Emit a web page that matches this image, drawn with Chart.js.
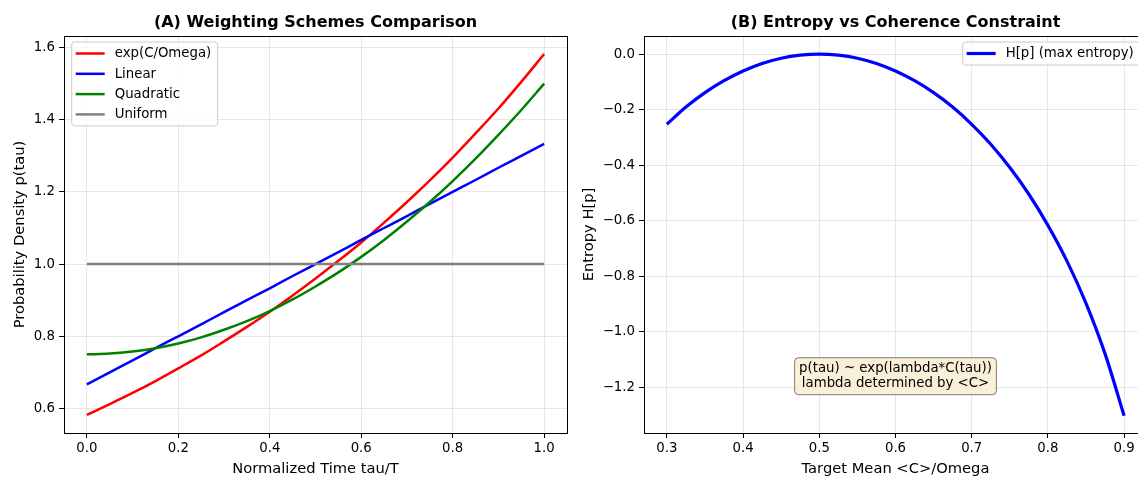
<!DOCTYPE html>
<html lang="en">
<head>
<meta charset="UTF-8">
<title>Weighting Schemes / Entropy</title>
<script src="https://cdn.jsdelivr.net/npm/chart.js@4.4.0/dist/chart.umd.min.js"></script>
<style>
  html, body { margin: 0; padding: 0; background: #fff; overflow: hidden; }
  body { width: 1138px; height: 478px; position: relative; }
  #left { position: absolute; left: 0; top: 0; }
  #right { position: absolute; left: 580px; top: 0; }
</style>
</head>
<body>
<canvas id="left" width="580" height="478"></canvas>
<canvas id="right" width="580" height="478"></canvas>

<script>
var tau = [0, 0.05, 0.1, 0.15, 0.2, 0.25, 0.3, 0.35, 0.4, 0.45, 0.5,
           0.55, 0.6, 0.65, 0.7, 0.75, 0.8, 0.85, 0.9, 0.95, 1.0];
var expWeight = [0.582, 0.612, 0.643, 0.676, 0.711, 0.747, 0.786, 0.826, 0.868, 0.913, 0.960,
                 1.009, 1.060, 1.115, 1.172, 1.232, 1.295, 1.362, 1.431, 1.505, 1.582];
var linWeight = [0.667, 0.700, 0.733, 0.767, 0.800, 0.833, 0.867, 0.900, 0.933, 0.967, 1.000,
                 1.033, 1.067, 1.100, 1.133, 1.167, 1.200, 1.233, 1.267, 1.300, 1.333];
var quadWeight = [0.750, 0.752, 0.758, 0.767, 0.780, 0.797, 0.818, 0.842, 0.870, 0.902, 0.938,
                  0.977, 1.020, 1.067, 1.118, 1.172, 1.230, 1.292, 1.358, 1.427, 1.500];
var uniWeight = [1, 1, 1, 1, 1, 1, 1, 1, 1, 1, 1, 1, 1, 1, 1, 1, 1, 1, 1, 1, 1];
var ticksAx = [0, 0.2, 0.4, 0.6, 0.8, 1.0];
var ticksAy = [0.6, 0.8, 1.0, 1.2, 1.4, 1.6];

// (B) entropy vs target mean
var targetMean = [0.3, 0.325, 0.35, 0.375, 0.4, 0.425, 0.45, 0.475, 0.5,
                  0.525, 0.55, 0.575, 0.6, 0.625, 0.65, 0.675, 0.7,
                  0.725, 0.75, 0.775, 0.8, 0.825, 0.85, 0.875, 0.9];
var entropy = [-0.253, -0.191, -0.139, -0.096, -0.061, -0.034, -0.015, -0.004, 0,
               -0.004, -0.015, -0.034, -0.061, -0.096, -0.139, -0.191, -0.253,
               -0.325, -0.409, -0.505, -0.617, -0.746, -0.898, -1.080, -1.303];
var ticksBx = [0.3, 0.4, 0.5, 0.6, 0.7, 0.8, 0.9];
var ticksBy = [-1.2, -1.0, -0.8, -0.6, -0.4, -0.2, 0.0];
var noteLines = ['p(tau) ~ exp(lambda*C(tau))', 'lambda determined by <C>'];

Chart.defaults.font.family = '"DejaVu Sans", sans-serif';
Chart.defaults.color = '#000';

function pts(xs, ys) {
  return xs.map(function (x, i) { return { x: x, y: ys[i] }; });
}
function fmt(v) {
  return v.toFixed(1).replace('-', '\u2212');
}
function roundRect(ctx, x, y, w, h, r) {
  ctx.beginPath();
  ctx.moveTo(x + r, y);
  ctx.lineTo(x + w - r, y);
  ctx.quadraticCurveTo(x + w, y, x + w, y + r);
  ctx.lineTo(x + w, y + h - r);
  ctx.quadraticCurveTo(x + w, y + h, x + w - r, y + h);
  ctx.lineTo(x + r, y + h);
  ctx.quadraticCurveTo(x, y + h, x, y + h - r);
  ctx.lineTo(x, y + r);
  ctx.quadraticCurveTo(x, y, x + r, y);
  ctx.closePath();
}

function axis(min, max, ticks, title, isY, titlePad) {
  return {
    type: 'linear',
    min: min,
    max: max,
    afterBuildTicks: function (s) {
      s.ticks = ticks.map(function (v) { return { value: v }; });
    },
    afterFit: function (s) {
      if (isY) s.width = 64; else s.height = 45;
    },
    grid: { color: 'rgba(176,176,176,0.3)', lineWidth: 1, tickColor: '#000', tickLength: 5 },
    border: { display: false },
    ticks: { font: { size: 13.3 }, color: '#000', padding: isY ? 4 : 3, autoSkip: false, maxRotation: 0, callback: fmt },
    title: { display: true, text: title, font: { size: 14.7 }, color: '#000', padding: titlePad }
  };
}

// spines on all four sides
var frameBox = {
  id: 'frameBox',
  afterDatasetsDraw: function (chart) {
    var a = chart.chartArea, ctx = chart.ctx;
    ctx.save();
    ctx.strokeStyle = '#000';
    ctx.lineWidth = 1;
    ctx.strokeRect(Math.round(a.left) + 0.5, Math.round(a.top) + 0.5,
                   Math.round(a.right - a.left), Math.round(a.bottom - a.top));
    ctx.restore();
  }
};

// legend drawn inside the axes, like matplotlib
var insideLegend = {
  id: 'insideLegend',
  afterDraw: function (chart, args, opts) {
    var ctx = chart.ctx, a = chart.chartArea, sets = chart.data.datasets;
    ctx.save();
    ctx.font = '13.3px "DejaVu Sans"';
    var tw = 0;
    sets.forEach(function (d) { tw = Math.max(tw, ctx.measureText(d.label).width); });
    var w = 4 + 29 + 10 + tw + 6.3;
    var h = 23 + (sets.length - 1) * 20.3;
    var x0 = opts.side === 'right' ? a.right - 7 - w : a.left + 7.7;
    var y0 = a.top + 6;
    roundRect(ctx, x0, y0, w, h, 3);
    ctx.fillStyle = 'rgba(255,255,255,0.8)';
    ctx.fill();
    ctx.strokeStyle = '#cccccc';
    ctx.lineWidth = 1;
    ctx.stroke();
    ctx.textBaseline = 'middle';
    ctx.textAlign = 'left';
    sets.forEach(function (d, i) {
      var y = y0 + 11.5 + i * 20.3;
      ctx.beginPath();
      ctx.moveTo(x0 + 4, y);
      ctx.lineTo(x0 + 33, y);
      ctx.strokeStyle = d.borderColor;
      ctx.lineWidth = d.borderWidth;
      ctx.stroke();
      ctx.fillStyle = '#000';
      ctx.fillText(d.label, x0 + 43, y + 0.5);
    });
    ctx.restore();
  }
};

// text box in panel B
var noteBox = {
  id: 'noteBox',
  afterDraw: function (chart, args, opts) {
    var ctx = chart.ctx, a = chart.chartArea;
    var cx = (a.left + a.right) / 2;
    var cy = a.bottom - opts.yFrac * (a.bottom - a.top);
    ctx.save();
    ctx.font = '13.3px "DejaVu Sans"';
    var tw = 0;
    opts.lines.forEach(function (t) { tw = Math.max(tw, ctx.measureText(t).width); });
    roundRect(ctx, cx - tw / 2 - 4.5, cy - 18.5, tw + 9, 37, 4);
    ctx.fillStyle = 'rgb(250,239,217)';
    ctx.fill();
    ctx.strokeStyle = 'rgba(0,0,0,0.5)';
    ctx.lineWidth = 1;
    ctx.stroke();
    ctx.fillStyle = '#000';
    ctx.textAlign = 'center';
    ctx.textBaseline = 'middle';
    var pitch = 15.4;
    opts.lines.forEach(function (t, i) {
      ctx.fillText(t, cx, cy + (i - (opts.lines.length - 1) / 2) * pitch);
    });
    ctx.restore();
  }
};

function line(label, xs, ys, color, width, order) {
  return {
    label: label,
    data: pts(xs, ys),
    borderColor: color,
    backgroundColor: color,
    borderWidth: width,
    pointRadius: 0,
    fill: false,
    cubicInterpolationMode: 'monotone',
    order: order
  };
}

function titleOpts(text) {
  return {
    display: true,
    text: text,
    fullSize: false,
    color: '#000',
    font: { size: 16, weight: 'bold' },
    padding: { top: 13, bottom: 3.8 }
  };
}

new Chart(document.getElementById('left'), {
  type: 'line',
  data: {
    datasets: [
      line('exp(C/Omega)', tau, expWeight, '#ff0000', 2.5, 3),
      line('Linear', tau, linWeight, '#0000ff', 2.5, 2),
      line('Quadratic', tau, quadWeight, '#008000', 2.5, 1),
      line('Uniform', tau, uniWeight, '#808080', 2.5, 0)
    ]
  },
  options: {
    responsive: false,
    animation: false,
    devicePixelRatio: 1,
    layout: { padding: { left: 0, right: 13, top: 0, bottom: 0 } },
    scales: {
      x: axis(-0.05, 1.05, ticksAx, 'Normalized Time tau/T', false, { top: 0, bottom: 0 }),
      y: axis(0.532, 1.632, ticksAy, 'Probability Density p(tau)', true, { top: 11, bottom: 0 })
    },
    plugins: {
      legend: { display: false },
      tooltip: { enabled: false },
      title: titleOpts('(A) Weighting Schemes Comparison'),
      insideLegend: { side: 'left' }
    }
  },
  plugins: [frameBox, insideLegend]
});

new Chart(document.getElementById('right'), {
  type: 'line',
  data: {
    datasets: [
      line('H[p] (max entropy)', targetMean, entropy, '#0000ff', 3.2, 0)
    ]
  },
  options: {
    responsive: false,
    animation: false,
    devicePixelRatio: 1,
    layout: { padding: { left: 0, right: 13, top: 0, bottom: 0 } },
    scales: {
      x: axis(0.27, 0.93, ticksBx, 'Target Mean <C>/Omega', false, { top: 0, bottom: 0 }),
      y: axis(-1.365, 0.065, ticksBy, 'Entropy H[p]', true, { top: 0, bottom: 0 })
    },
    plugins: {
      legend: { display: false },
      tooltip: { enabled: false },
      title: titleOpts('(B) Entropy vs Coherence Constraint'),
      insideLegend: { side: 'right' },
      noteBox: { lines: noteLines, yFrac: 0.143 }
    }
  },
  plugins: [frameBox, insideLegend, noteBox]
});
</script>
</body>
</html>
